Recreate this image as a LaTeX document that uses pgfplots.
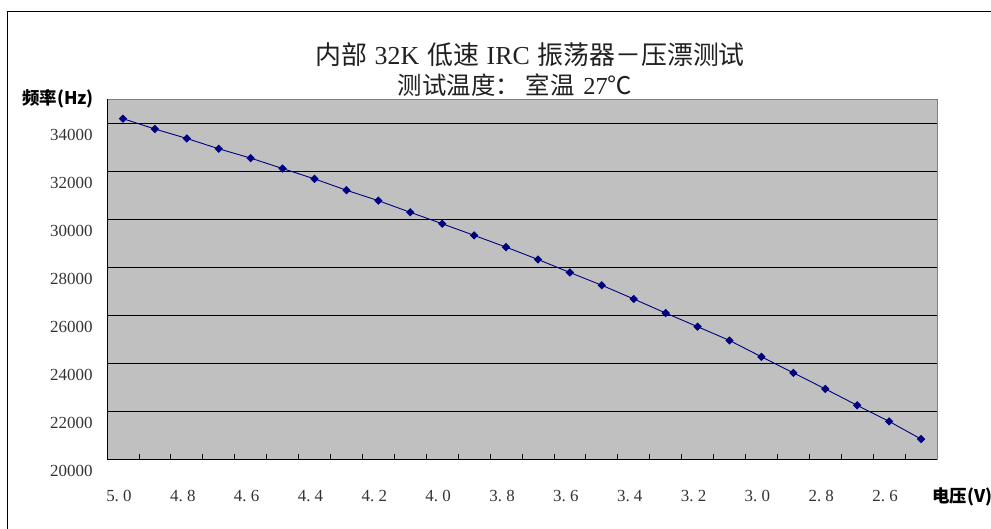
\documentclass[border=0pt]{standalone}
\usepackage{pgfplots}
\pgfplotsset{compat=1.18}
\usepackage{fontspec}
\setmainfont{Liberation Serif}
\newfontfamily\cjk{Noto Sans CJK SC}
\definecolor{plotbg}{HTML}{C0C0C0}
\definecolor{navyline}{HTML}{000080}
\definecolor{tickgray}{HTML}{333333}
\definecolor{titlegray}{HTML}{202020}
\begin{document}
\begin{tikzpicture}
\useasboundingbox (0,0) rectangle (991bp,529bp);
\draw[black, line width=1bp] (7bp,0) -- (7bp,517bp) -- (991bp,517bp);
\begin{axis}[
  at={(107bp,70bp)}, anchor=south west,
  scale only axis,
  width=830bp, height=360bp,
  xmin=-0.5, xmax=25.5,
  ymin=20000, ymax=35000,
  scaled y ticks=false,
  axis background/.style={fill=plotbg},
  axis line style={draw=gray, line width=0.8bp},
  xtick={0,2,...,24},
  xticklabels={5.\ 0,4.\ 8,4.\ 6,4.\ 4,4.\ 2,4.\ 0,3.\ 8,3.\ 6,3.\ 4,3.\ 2,3.\ 0,2.\ 8,2.\ 6},
  minor xtick={0.5,1.5,...,24.5},
  ytick={20000,22000,...,34000},
  yticklabels={20000,22000,24000,26000,28000,30000,32000,34000},
  tick pos=left,
  tick align=inside,
  major tick length=0pt,
  minor tick length=5bp,
  minor tick style={black, line width=0.8bp},
  ymajorgrids,
  major grid style={black, line width=0.8bp},
  tick label style={font=\fontsize{17}{20}\selectfont, text=tickgray},
  xticklabel style={yshift=-28bp, xshift=-4bp},
  yticklabel style={xshift=-11bp, yshift=-12bp},
  clip=false,
]
\addplot[navyline, line width=0.9bp, mark=square*, mark size=2.5bp, mark options={fill=navyline, draw=navyline, rotate=45}] coordinates {
(0,34180) (1,33749) (2,33356) (3,32925) (4,32537) (5,32102) (6,31671)
(7,31199) (8,30764) (9,30279) (10,29802) (11,29317) (12,28828) (13,28314)
(14,27770) (15,27239) (16,26667) (17,26081) (18,25513) (19,24940) (20,24258)
(21,23589) (22,22920) (23,22235) (24,21566) (25,20830)
};
\draw[black, line width=0.9bp] (rel axis cs:0,1) -- (rel axis cs:0,0) -- (rel axis cs:1,0);
\end{axis}
\node[text=titlegray, font={\fontsize{26}{29}\selectfont}] at (530bp,474bp) {{\cjk 内部}\hspace{0.3em}32K\hspace{0.3em}{\cjk 低速}\hspace{0.3em}IRC\hspace{0.3em}{\cjk 振荡器－压漂测试}};
\node[text=titlegray, font={\fontsize{24.5}{27}\selectfont}] at (515bp,444bp) {{\cjk 测试温度：}\hspace{0.25em}{\cjk 室温}\hspace{0.35em}27{\cjk ℃}};
\node[font={\cjk\bfseries\fontsize{17.5}{20}\selectfont}] at (58bp,430bp) {频率(Hz)};
\node[anchor=west, font={\cjk\bfseries\fontsize{17.5}{20}\selectfont}] at (929bp,32bp) {电压(V)};
\end{tikzpicture}
\end{document}
